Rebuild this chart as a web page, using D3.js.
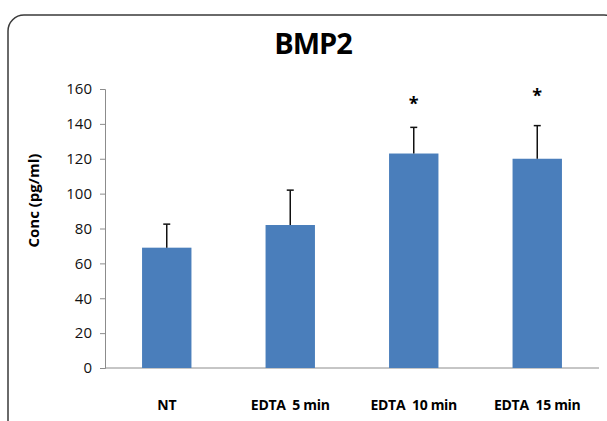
<!DOCTYPE html>
<html>
<head>
<meta charset="utf-8">
<script src="https://cdn.jsdelivr.net/npm/d3@7"></script>
<style>
    body { margin: 0; background: #fff; }
    text { font-family: "Open Sans", "DejaVu Sans", sans-serif; }
</style>
</head>
<body>
<div id="chart"></div>
<script>
// chart data
var categories = ["NT", "EDTA  5 min", "EDTA  10 min", "EDTA  15 min"];
var means = [69, 82, 123, 120];
var errorTops = [82.5, 102, 138, 139];
var starMarks = [null, null, "*", "*"];
var starLevels = [null, null, 153, 158];
var yTicks = [0, 20, 40, 60, 80, 100, 120, 140, 160];

(function () {
    "use strict";

    var vWidth = 607, vHeight = 421;
    var vMargin = { mTop: 89, mRight: 8, mBottom: 53, mLeft: 105 };
    var vPlotW = vWidth - vMargin.mLeft - vMargin.mRight,
        vPlotH = vHeight - vMargin.mTop - vMargin.mBottom;

    var svg = d3.select("#chart")
        .append("svg")
        .attr("width", vWidth)
        .attr("height", vHeight);

    // rounded frame around the chart area
    svg.append("rect")
        .attr("x", 8)
        .attr("y", 15)
        .attr("width", 612)
        .attr("height", 430)
        .attr("rx", 16)
        .attr("fill", "none")
        .attr("stroke", "#3a3a3a")
        .attr("stroke-width", 1.5);

    svg.append("text")
        .attr("x", 313)
        .attr("y", 54)
        .attr("text-anchor", "middle")
        .style("font-size", "29px")
        .style("font-weight", "bold")
        .style("letter-spacing", "-1px")
        .text("BMP2");

    var g = svg.append("g")
        .attr("transform", "translate(" + vMargin.mLeft + "," + vMargin.mTop + ")");

    var vX = d3.scaleBand()
        .domain(categories)
        .range([0, vPlotW])
        .paddingInner(0.6)
        .paddingOuter(0.3);

    var vY = d3.scaleLinear()
        .domain([0, 160])
        .range([vPlotH, 0]);

    // y axis
    var vYAxis = g.append("g")
        .call(d3.axisLeft(vY).tickValues(yTicks).tickSize(5).tickPadding(8));
    vYAxis.select(".domain").attr("stroke", "#8c8c8c");
    vYAxis.selectAll(".tick line").attr("stroke", "#8c8c8c");
    vYAxis.selectAll("text")
        .attr("fill", "#111")
        .style("font-size", "15px")
        .style("font-family", "\"Open Sans\", sans-serif");

    // x axis line only
    g.append("line")
        .attr("x1", 0)
        .attr("x2", vPlotW)
        .attr("y1", vY(0))
        .attr("y2", vY(0))
        .attr("stroke", "#8c8c8c")
        .attr("stroke-width", 1);

    g.selectAll(".xlab")
        .data(categories)
        .enter()
        .append("text")
        .attr("class", "xlab")
        .attr("x", function (d) { return vX(d) + vX.bandwidth() / 2; })
        .attr("y", vPlotH + 42)
        .attr("text-anchor", "middle")
        .style("font-size", "14px")
        .style("font-weight", "bold")
        .style("letter-spacing", "-0.3px")
        .style("white-space", "pre")
        .attr("xml:space", "preserve")
        .text(function (d) { return d; });

    svg.append("text")
        .attr("transform", "translate(39," + (vMargin.mTop + vPlotH * 0.4) + ")rotate(-90)")
        .attr("text-anchor", "middle")
        .style("font-size", "15px")
        .style("font-weight", "bold")
        .text("Conc (pg/ml)");

    // bars
    g.selectAll(".bar")
        .data(means)
        .enter()
        .append("rect")
        .attr("class", "bar")
        .attr("x", function (d, i) { return vX(categories[i]); })
        .attr("y", function (d) { return vY(d); })
        .attr("width", vX.bandwidth())
        .attr("height", function (d) { return vY(0) - vY(d); })
        .attr("fill", "#4a7ebb");

    // upper error bars
    var vCap = 3.5;
    errorTops.forEach(function (e, i) {
        var cx = vX(categories[i]) + vX.bandwidth() / 2;
        g.append("line")
            .attr("x1", cx).attr("x2", cx)
            .attr("y1", vY(means[i])).attr("y2", vY(e))
            .attr("stroke", "#111").attr("stroke-width", 1.5);
        g.append("line")
            .attr("x1", cx - vCap).attr("x2", cx + vCap)
            .attr("y1", vY(e)).attr("y2", vY(e))
            .attr("stroke", "#111").attr("stroke-width", 1.5);
    });

    // significance stars
    starMarks.forEach(function (s, i) {
        if (!s) return;
        g.append("text")
            .attr("x", vX(categories[i]) + vX.bandwidth() / 2)
            .attr("y", vY(starLevels[i]) + 9)
            .attr("text-anchor", "middle")
            .style("font-size", "18px")
            .style("font-weight", "bold")
            .text(s);
    });
})();
</script>
</body>
</html>
